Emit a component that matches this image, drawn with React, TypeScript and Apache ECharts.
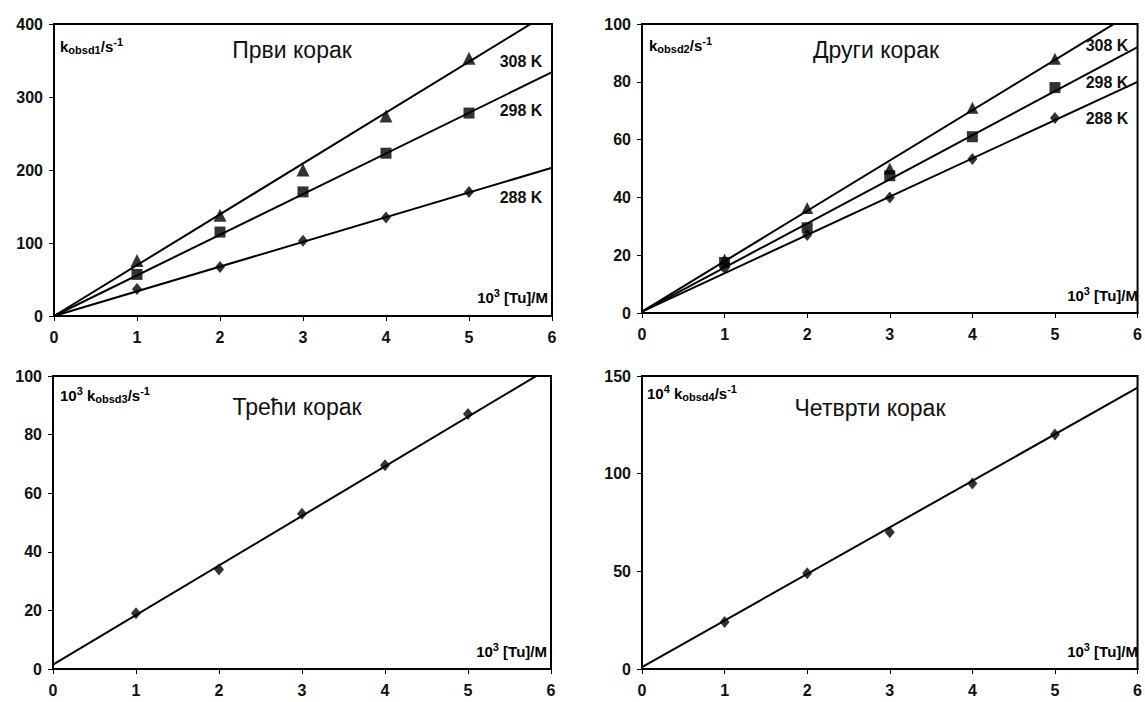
import React, { useEffect, useRef } from "react";
import * as echarts from "echarts";

// ---- data ----
const xValues = [1, 2, 3, 4, 5];

// Panel 1 (Први корак)
const p1_308 = [76, 138, 200, 274, 353];
const p1_298 = [57, 115, 170, 223, 278];
const p1_288 = [37, 67, 103, 135, 170];
const p1Fit308 = [[0, 0], [6, 418]];
const p1Fit298 = [[0, 0], [6, 334]];
const p1Fit288 = [[0, 0], [6, 203]];

// Panel 2 (Други корак)
const p2_308 = [18.5, 36.3, 50, 71, 88];
const p2_298 = [17.5, 29.5, 47.5, 61, 78];
const p2_288 = [15.5, 27, 40, 53.3, 67.5];
const p2Fit308 = [[0, 0.5], [6, 105]];
const p2Fit298 = [[0, 0.5], [6, 92]];
const p2Fit288 = [[0, 0.5], [6, 80]];

// Panel 3 (Трећи корак)
const p3 = [19, 34, 53, 69.5, 87];
const p3Fit = [[0, 1.5], [6, 103]];

// Panel 4 (Четврти корак)
const p4 = [24, 49, 70, 95, 120];
const p4Fit = [[0, 1], [6, 144]];

const yAxes = [
  { max: 400, interval: 100 },
  { max: 100, interval: 20 },
  { max: 100, interval: 20 },
  { max: 150, interval: 50 },
];

const titles = ["Први корак", "Други корак", "Трећи корак", "Четврти корак"];
const tempLabels = ["308 K", "298 K", "288 K"];

const FONT = "'Liberation Sans', Arial, sans-serif";

const grids = [
  { left: 54, top: 24, width: 498, height: 292 },
  { left: 642, top: 24, width: 499, height: 289 },
  { left: 53, top: 376, width: 498, height: 293 },
  { left: 642, top: 376, width: 499, height: 293 },
];

function pts(ys: number[]) {
  return xValues.map((x, i) => [x, ys[i]]);
}

export default function App() {
  const ref = useRef<HTMLDivElement>(null);
  useEffect(() => {
    if (!ref.current) return;
    const chart = echarts.init(ref.current, null, { renderer: "svg" });

    const xAxis = grids.map((_, i) => ({
      type: "value",
      gridIndex: i,
      min: 0,
      max: 6,
      interval: 1,
      axisLine: { show: true, onZero: false, lineStyle: { color: "#000", width: 2 } },
      axisTick: { show: true, length: 5, lineStyle: { color: "#000", width: 1 } },
      axisLabel: { color: "#111", fontWeight: "bold", fontSize: 16, fontFamily: FONT, margin: 13 },
      splitLine: { show: false },
    }));
    const yAxis = yAxes.map((a, i) => ({
      type: "value",
      gridIndex: i,
      min: 0,
      max: a.max,
      interval: a.interval,
      axisLine: { show: true, onZero: false, lineStyle: { color: "#000", width: 2 } },
      axisTick: { show: true, length: 5, lineStyle: { color: "#000", width: 1 } },
      axisLabel: { color: "#111", fontWeight: "bold", fontSize: 16, fontFamily: FONT, margin: 11 },
      splitLine: { show: false },
    }));

    const lineS = (i: number, data: number[][]) => ({
      type: "line",
      xAxisIndex: i,
      yAxisIndex: i,
      data,
      symbol: "none",
      clip: true,
      lineStyle: { color: "#000", width: 2 },
      z: 2,
    });
    const scatS = (i: number, data: number[][], symbol: string, size: number | number[]) => ({
      type: "scatter",
      xAxisIndex: i,
      yAxisIndex: i,
      data,
      symbol,
      symbolSize: size,
      itemStyle: { color: "#000" },
      z: 3,
    });

    const series = [
      lineS(0, p1Fit308),
      lineS(0, p1Fit298),
      lineS(0, p1Fit288),
      scatS(0, pts(p1_308), "triangle", 13),
      scatS(0, pts(p1_298), "rect", 11),
      scatS(0, pts(p1_288), "diamond", [10, 12]),
      lineS(1, p2Fit308),
      lineS(1, p2Fit298),
      lineS(1, p2Fit288),
      scatS(1, pts(p2_308), "triangle", 12),
      scatS(1, pts(p2_298), "rect", 11),
      scatS(1, pts(p2_288), "diamond", [10, 12]),
      lineS(2, p3Fit),
      scatS(2, pts(p3), "diamond", [10, 12]),
      lineS(3, p4Fit),
      scatS(3, pts(p4), "diamond", [10, 12]),
    ];

    const rich = {
      m: { fontSize: 15, fontWeight: "bold", fontFamily: FONT, color: "#111" },
      sub: { fontSize: 11, fontWeight: "bold", fontFamily: FONT, color: "#111", padding: [8, 0, 0, 0] },
      sup: { fontSize: 11, fontWeight: "bold", fontFamily: FONT, color: "#111", padding: [0, 0, 8, 0] },
    };

    const richText = (text: string, x: number, y: number, align = "left") => ({
      type: "text",
      x,
      y,
      style: { text, rich, align, verticalAlign: "middle" },
      z: 10,
    });
    const plainText = (text: string, x: number, y: number, size: number, bold: boolean, align = "left") => ({
      type: "text",
      x,
      y,
      style: {
        text,
        align,
        verticalAlign: "middle",
        fontSize: size,
        fontWeight: bold ? "bold" : "normal",
        fontFamily: FONT,
        fill: "#111",
      },
      z: 10,
    });

    const xTitle = "{m|10}{sup|3}{m| [Tu]/M}";
    const graphic = [
      richText("{m|k}{sub|obsd1}{m|/s}{sup|-1}", 60, 46),
      richText("{m|k}{sub|obsd2}{m|/s}{sup|-1}", 649, 45),
      richText("{m|10}{sup|3}{m| k}{sub|obsd3}{m|/s}{sup|-1}", 60, 395),
      richText("{m|10}{sup|4}{m| k}{sub|obsd4}{m|/s}{sup|-1}", 647, 393),
      richText(xTitle, 548, 297, "right"),
      richText(xTitle, 1138, 295, "right"),
      richText(xTitle, 547, 651, "right"),
      richText(xTitle, 1138, 651, "right"),
      plainText(titles[0], 292, 50, 23, false, "center"),
      plainText(titles[1], 876, 50, 23, false, "center"),
      plainText(titles[2], 297, 407, 23, false, "center"),
      plainText(titles[3], 870, 408, 23, false, "center"),
      plainText(tempLabels[0], 521, 61, 16, true, "center"),
      plainText(tempLabels[1], 521, 110, 16, true, "center"),
      plainText(tempLabels[2], 521, 197, 16, true, "center"),
      plainText(tempLabels[0], 1107, 45, 16, true, "center"),
      plainText(tempLabels[1], 1107, 82, 16, true, "center"),
      plainText(tempLabels[2], 1107, 118, 16, true, "center"),
    ];

    chart.setOption({
      animation: false,
      backgroundColor: "#fff",
      grid: grids.map((g) => ({ ...g, show: true, borderColor: "#000", borderWidth: 2, backgroundColor: "transparent" })),
      xAxis,
      yAxis,
      series,
      graphic,
    } as any);
    return () => chart.dispose();
  }, []);
  return (
    <div
      ref={ref}
      style={{ position: "fixed", left: 0, top: 0, width: 1145, height: 702, background: "#fff" }}
    />
  );
}
